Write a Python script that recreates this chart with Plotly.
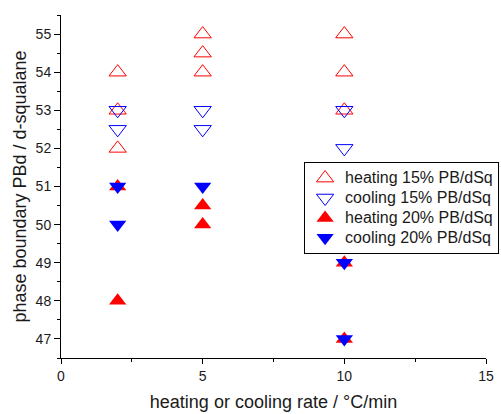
import plotly.graph_objects as go

# data
heat15_x = [2, 2, 2, 5, 5, 5, 10, 10, 10]
heat15_y = [54, 53, 52, 55, 54.5, 54, 55, 54, 53]
cool15_x = [2, 2, 5, 5, 10, 10]
cool15_y = [53, 52.5, 53, 52.5, 53, 52]
heat20_x = [2, 2, 5, 5, 10, 10]
heat20_y = [51, 48, 50.5, 50, 49, 47]
cool20_x = [2, 2, 5, 10, 10]
cool20_y = [51, 50, 51, 49, 47]

names = ["heating 15% PB/dSq", "cooling 15% PB/dSq", "heating 20% PB/dSq", "cooling 20% PB/dSq"]

RED = "#FF0000"
BLUE = "#0000FF"
FONT = "Liberation Sans, Arial, sans-serif"


def lg(t):
    return '<span style="font-size:16px">' + t + '</span>'


fig = go.Figure()
fig.add_trace(go.Scatter(x=heat15_x, y=heat15_y, mode="markers", name=lg(names[0]),
                         marker=dict(symbol="triangle-up-open", size=15, color=RED, line=dict(width=1, color=RED))))
fig.add_trace(go.Scatter(x=cool15_x, y=cool15_y, mode="markers", name=lg(names[1]),
                         marker=dict(symbol="triangle-down-open", size=15, color=BLUE, line=dict(width=1, color=BLUE))))
fig.add_trace(go.Scatter(x=heat20_x, y=heat20_y, mode="markers", name=lg(names[2]),
                         marker=dict(symbol="triangle-up", size=15, color=RED, line=dict(width=0))))
fig.add_trace(go.Scatter(x=cool20_x, y=cool20_y, mode="markers", name=lg(names[3]),
                         marker=dict(symbol="triangle-down", size=15, color=BLUE, line=dict(width=0))))

fig.update_layout(
    width=501, height=414,
    margin=dict(l=61, r=15, t=15, b=56, autoexpand=False),
    paper_bgcolor="white", plot_bgcolor="white",
    font=dict(family=FONT, color="#1a1a1a", size=14),
    showlegend=True,
    legend=dict(x=0.572, y=0.571, xanchor="left", yanchor="top",
                bordercolor="#000000", borderwidth=1, bgcolor="white",
                font=dict(size=13, family=FONT), tracegroupgap=0,
                itemsizing="trace"),
    xaxis=dict(range=[0, 15], dtick=5, tick0=0, showgrid=False, zeroline=False,
               showline=True, linecolor="#000", linewidth=1, automargin=False,
               ticks="outside", ticklen=5, tickcolor="#000",
               minor=dict(dtick=2.5, ticks="outside", ticklen=3, tickcolor="#000", showgrid=False),
               tickfont=dict(size=14),
               title=dict(text="heating or cooling rate / °C/min", font=dict(size=18), standoff=12)),
    yaxis=dict(range=[46.5, 55.5], dtick=1, tick0=47, showgrid=False, zeroline=False,
               showline=True, linecolor="#000", linewidth=1, automargin=False,
               ticks="outside", ticklen=6, tickcolor="#000",
               minor=dict(dtick=0.5, ticks="outside", ticklen=3, tickcolor="#000", showgrid=False),
               tickfont=dict(size=14),
               title=dict(text="phase boundary PBd / d-squalane", font=dict(size=18), standoff=4)),
)

fig.write_html("out.html", config={"displayModeBar": False},
               post_script="document.body.style.margin='0';document.body.style.padding='0';")
